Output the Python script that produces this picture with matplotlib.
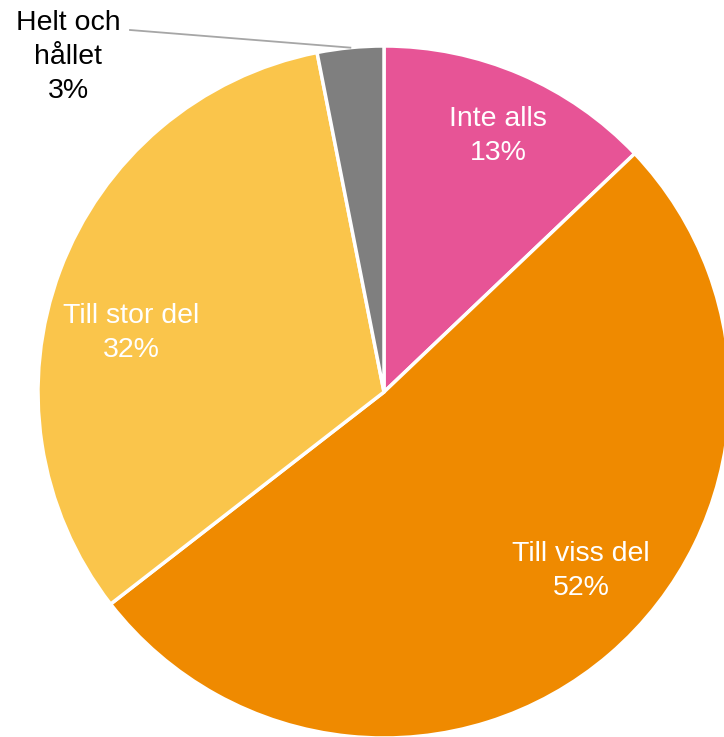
import numpy as np
import matplotlib.pyplot as plt

plt.rcParams['font.family'] = ['Liberation Sans', 'DejaVu Sans']

# andel svar (%), medurs fran klockan tolv
kategorier = ['Inte alls', 'Till viss del', 'Till stor del', 'Helt och\nhållet']
andelar = [12.9, 51.6, 32.4, 3.1]
farger = ['#E75496', '#EF8A00', '#FAC54B', '#7F7F7F']

W, H = 724, 737
fig = plt.figure(figsize=(W / 100, H / 100), dpi=100)
ax = fig.add_axes([0, 0, 1, 1])

cx, cy, r = 384, H - 392, 346

wedges, _ = ax.pie(andelar, colors=farger, startangle=90, counterclock=False,
                   center=(cx, cy), radius=r, frame=True,
                   wedgeprops=dict(edgecolor='white', linewidth=2.5))
ax.set_xlim(0, W)
ax.set_ylim(0, H)
ax.axis('off')

# etiketter inne i sektorerna: (radie-andel, vinkelforskjutning)
placering = [(0.81, -0.8), (0.77, 7.0), (0.75, 7.3)]
for i, (rr, dvinkel) in enumerate(placering):
    w = wedges[i]
    mitt = np.deg2rad((w.theta1 + w.theta2) / 2 + dvinkel)
    x = cx + rr * r * np.cos(mitt)
    y = cy + rr * r * np.sin(mitt)
    ax.text(x, y, '%s\n%d%%' % (kategorier[i], round(andelar[i])),
            ha='center', va='center', color='white', fontsize=20.5,
            linespacing=1.4)

# sista kategorin utanfor med hjalplinje
w = wedges[3]
mitt = np.deg2rad((w.theta1 + w.theta2) / 2)
kant = (cx + r * np.cos(mitt), cy + r * np.sin(mitt))
ax.plot([kant[0], 130, 130], [kant[1], H - 30, H - 30], color='#A6A6A6', lw=1.3)
ax.text(68, H - 56.5, '%s\n%d%%' % (kategorier[3], round(andelar[3])),
        ha='center', va='center', color='black', fontsize=20.5,
        linespacing=1.4)

fig.savefig('out.png', dpi=100)
